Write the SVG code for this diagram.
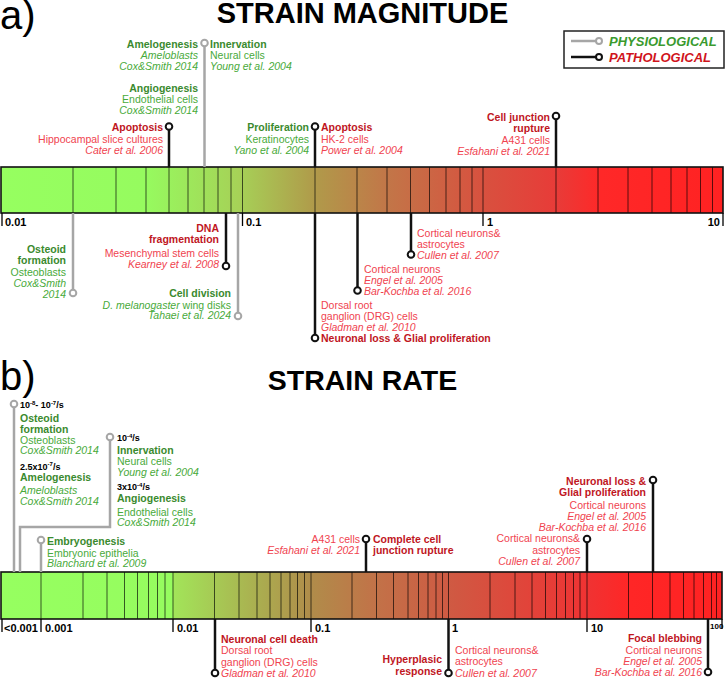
<svg xmlns="http://www.w3.org/2000/svg" width="725" height="678" viewBox="0 0 725 678">
<defs>
<linearGradient id="gA" gradientUnits="userSpaceOnUse" x1="0" y1="0" x2="724" y2="0">
<stop offset="0" stop-color="#96ff60"/>
<stop offset="0.2" stop-color="#96fb5f"/>
<stop offset="0.33" stop-color="#a6d157"/>
<stop offset="0.435" stop-color="#b09a4a"/>
<stop offset="0.535" stop-color="#c27648"/>
<stop offset="0.667" stop-color="#d8513f"/>
<stop offset="0.77" stop-color="#e83b38"/>
<stop offset="0.83" stop-color="#ff2828"/>
<stop offset="1" stop-color="#ff2222"/>
</linearGradient>
<linearGradient id="gB" gradientUnits="userSpaceOnUse" x1="0" y1="0" x2="724" y2="0">
<stop offset="0" stop-color="#96ff60"/>
<stop offset="0.238" stop-color="#96fc5f"/>
<stop offset="0.24" stop-color="#a2e459"/>
<stop offset="0.43" stop-color="#b08c4a"/>
<stop offset="0.52" stop-color="#c27248"/>
<stop offset="0.62" stop-color="#cf5a43"/>
<stop offset="0.81" stop-color="#ef3333"/>
<stop offset="0.87" stop-color="#ff2626"/>
<stop offset="1" stop-color="#ff2222"/>
</linearGradient>
<style>
text{font-family:"Liberation Sans",Arial,sans-serif;font-size:10.5px}
.e{text-anchor:end}
.gb{fill:#3a8a2e;font-weight:bold}
.g{fill:#48aa3a}
.gi{fill:#48aa3a;font-style:italic}
.rb{fill:#c0161e;font-weight:bold}
.r{fill:#f0434f}
.ri{fill:#f0434f;font-style:italic}
.k{fill:#000;font-weight:bold;font-size:9px}
.sup{font-size:6px}
.tk{fill:#000;font-weight:bold;font-size:11px}
.ttl{fill:#000;font-weight:bold;font-size:29px;text-anchor:middle}
.big{fill:#000;font-size:40px}
.pl{stroke:#a6a6a6;stroke-width:2.5;fill:none}
.bl{stroke:#111;stroke-width:2.5;fill:none}
.pc{fill:#fff;stroke:#a6a6a6;stroke-width:2}
.bc{fill:#fff;stroke:#111;stroke-width:2}
.seg{stroke:#000;stroke-opacity:0.65;stroke-width:1}
.tic{stroke:#000;stroke-width:1.3}
.bar{stroke:#111;stroke-width:1.6}
</style>
</defs>

<!-- Panel a -->
<text class="big" x="0" y="29">a)</text>
<text class="ttl" x="362.5" y="23">STRAIN MAGNITUDE</text>

<g id="legend">
<rect x="564" y="31" width="160" height="37" fill="#fff" stroke="#222" stroke-width="1.5"/>
<line class="pl" x1="571" y1="41" x2="596" y2="41"/>
<circle class="pc" cx="599" cy="41" r="3"/>
<line class="bl" x1="571" y1="57" x2="596" y2="57"/>
<circle class="bc" cx="599" cy="57" r="3"/>
<text x="609" y="46" style="font-size:13px;font-weight:bold;font-style:italic;fill:#3a9a2e">PHYSIOLOGICAL</text>
<text x="609" y="62" style="font-size:13px;font-weight:bold;font-style:italic;fill:#d0141c">PATHOLOGICAL</text>
</g>

<g id="barA">
<rect x="1" y="167" width="722" height="46" fill="url(#gA)"/>
<g class="seg">
<line x1="73" y1="167" x2="73" y2="213"/><line x1="116" y1="167" x2="116" y2="213"/><line x1="146" y1="167" x2="146" y2="213"/><line x1="169" y1="167" x2="169" y2="213"/><line x1="188" y1="167" x2="188" y2="213"/><line x1="204" y1="167" x2="204" y2="213"/><line x1="218" y1="167" x2="218" y2="213"/><line x1="231" y1="167" x2="231" y2="213"/><line x1="242.5" y1="167" x2="242.5" y2="213"/>
<line x1="315" y1="167" x2="315" y2="213"/><line x1="357" y1="167" x2="357" y2="213"/><line x1="387" y1="167" x2="387" y2="213"/><line x1="410.5" y1="167" x2="410.5" y2="213"/><line x1="429.5" y1="167" x2="429.5" y2="213"/><line x1="446" y1="167" x2="446" y2="213"/><line x1="460" y1="167" x2="460" y2="213"/><line x1="472" y1="167" x2="472" y2="213"/><line x1="483" y1="167" x2="483" y2="213"/>
<line x1="556" y1="167" x2="556" y2="213"/><line x1="598" y1="167" x2="598" y2="213"/><line x1="628" y1="167" x2="628" y2="213"/><line x1="652" y1="167" x2="652" y2="213"/><line x1="671" y1="167" x2="671" y2="213"/><line x1="687" y1="167" x2="687" y2="213"/><line x1="700.5" y1="167" x2="700.5" y2="213"/><line x1="712.5" y1="167" x2="712.5" y2="213"/>
</g>
<rect class="bar" x="1" y="167" width="722" height="46" fill="none"/>
<g class="tic">
<line x1="2" y1="213" x2="2" y2="226"/><line x1="242.5" y1="213" x2="242.5" y2="226"/><line x1="483" y1="213" x2="483" y2="226"/><line x1="723" y1="213" x2="723" y2="226"/>
</g>
<text class="tk" x="5" y="226">0.01</text>
<text class="tk" x="246" y="226">0.1</text>
<text class="tk" x="487" y="226">1</text>
<text class="tk e" x="720" y="226">10</text>
</g>

<!-- Panel b -->
<text class="big" x="0" y="390">b)</text>
<text class="ttl" x="362.5" y="389.5" style="font-size:28.5px">STRAIN RATE</text>

<g id="barB">
<rect x="1" y="572" width="721" height="47" fill="url(#gB)"/>
<g class="seg">
<line x1="41" y1="572" x2="41" y2="619"/><line x1="83" y1="572" x2="83" y2="619"/><line x1="107" y1="572" x2="107" y2="619"/><line x1="124.5" y1="572" x2="124.5" y2="619"/><line x1="137.5" y1="572" x2="137.5" y2="619"/><line x1="148.5" y1="572" x2="148.5" y2="619"/><line x1="157.5" y1="572" x2="157.5" y2="619"/><line x1="165" y1="572" x2="165" y2="619"/><line x1="173" y1="572" x2="173" y2="619"/>
<line x1="214.5" y1="572" x2="214.5" y2="619"/><line x1="239" y1="572" x2="239" y2="619"/><line x1="257" y1="572" x2="257" y2="619"/><line x1="270" y1="572" x2="270" y2="619"/><line x1="281" y1="572" x2="281" y2="619"/><line x1="290" y1="572" x2="290" y2="619"/><line x1="297.5" y1="572" x2="297.5" y2="619"/><line x1="304.5" y1="572" x2="304.5" y2="619"/><line x1="311" y1="572" x2="311" y2="619"/>
<line x1="352" y1="572" x2="352" y2="619"/><line x1="376.5" y1="572" x2="376.5" y2="619"/><line x1="393.5" y1="572" x2="393.5" y2="619"/><line x1="408" y1="572" x2="408" y2="619"/><line x1="418.5" y1="572" x2="418.5" y2="619"/><line x1="428" y1="572" x2="428" y2="619"/><line x1="436" y1="572" x2="436" y2="619"/><line x1="442.5" y1="572" x2="442.5" y2="619"/><line x1="448.5" y1="572" x2="448.5" y2="619"/>
<line x1="490" y1="572" x2="490" y2="619"/><line x1="515" y1="572" x2="515" y2="619"/><line x1="532" y1="572" x2="532" y2="619"/><line x1="545.5" y1="572" x2="545.5" y2="619"/><line x1="556.5" y1="572" x2="556.5" y2="619"/><line x1="565.5" y1="572" x2="565.5" y2="619"/><line x1="573.5" y1="572" x2="573.5" y2="619"/><line x1="580" y1="572" x2="580" y2="619"/><line x1="587" y1="572" x2="587" y2="619"/>
<line x1="628.5" y1="572" x2="628.5" y2="619"/><line x1="652.5" y1="572" x2="652.5" y2="619"/><line x1="670" y1="572" x2="670" y2="619"/><line x1="683.5" y1="572" x2="683.5" y2="619"/><line x1="694" y1="572" x2="694" y2="619"/><line x1="703.5" y1="572" x2="703.5" y2="619"/><line x1="711.5" y1="572" x2="711.5" y2="619"/><line x1="716.5" y1="572" x2="716.5" y2="619"/>
</g>
<rect class="bar" x="1" y="572" width="721" height="47" fill="none"/>
<g class="tic">
<line x1="2" y1="619" x2="2" y2="632"/><line x1="41" y1="619" x2="41" y2="632"/><line x1="173" y1="619" x2="173" y2="632"/><line x1="311" y1="619" x2="311" y2="632"/><line x1="587" y1="619" x2="587" y2="632"/><line x1="722" y1="619" x2="722" y2="629"/>
</g>
<text class="tk" x="4" y="632">&lt;0.001</text>
<text class="tk" x="45" y="632">0.001</text>
<text class="tk" x="177" y="632">0.01</text>
<text class="tk" x="315" y="632">0.1</text>
<text class="tk" x="452" y="632">1</text>
<text class="tk" x="591" y="632">10</text>
<text class="tk" x="710" y="629" style="font-size:8px">100</text>
</g>

<g id="connectors">
<line class="pl" x1="204.5" y1="43" x2="204.5" y2="167"/>
<line class="bl" x1="169" y1="126" x2="169" y2="167"/>
<line class="bl" x1="315" y1="126" x2="315" y2="167"/>
<line class="bl" x1="556" y1="116" x2="556" y2="167"/>
<line class="pl" x1="73" y1="213" x2="73" y2="293"/>
<line class="bl" x1="226" y1="213" x2="226" y2="266"/>
<line class="pl" x1="238" y1="213" x2="238" y2="316"/>
<line class="bl" x1="315" y1="213" x2="315" y2="338"/>
<line class="bl" x1="357.5" y1="213" x2="357.5" y2="290"/>
<line class="bl" x1="411" y1="213" x2="411" y2="254"/>
<line class="pl" x1="14" y1="404" x2="14" y2="572"/>
<polyline class="pl" points="110,437 110,527 20,527 20,572"/>
<line class="pl" x1="41" y1="540" x2="41" y2="572"/>
<line class="bl" x1="366" y1="539" x2="366" y2="572"/>
<line class="bl" x1="587" y1="539" x2="587" y2="572"/>
<line class="bl" x1="653" y1="480" x2="653" y2="572"/>
<line class="bl" x1="215" y1="619" x2="215" y2="673"/>
<line class="bl" x1="448.5" y1="619" x2="448.5" y2="673"/>
<line class="bl" x1="708" y1="619" x2="708" y2="672"/>
</g>

<g id="a-amelo-innerv">
<circle class="pc" cx="204.5" cy="43" r="3.3"/>
<text class="gb e" x="198" y="47.5">Amelogenesis</text>
<text class="gi e" x="198" y="59">Ameloblasts</text>
<text class="gi e" x="198" y="70">Cox&amp;Smith 2014</text>
<text class="gb" x="210" y="47.5">Innervation</text>
<text class="g" x="210" y="59">Neural cells</text>
<text class="gi" x="210" y="70">Young et al. 2004</text>
<text class="gb e" x="198" y="91.5">Angiogenesis</text>
<text class="g e" x="198" y="103">Endothelial cells</text>
<text class="gi e" x="198" y="113.5">Cox&amp;Smith 2014</text>
</g>
<g id="a-apoptosis-hippo">
<circle class="bc" cx="169" cy="126.5" r="3.3"/>
<text class="rb e" x="163" y="130.5">Apoptosis</text>
<text class="r e" x="163" y="143">Hippocampal slice cultures</text>
<text class="ri e" x="163" y="154">Cater et al. 2006</text>
</g>
<g id="a-prolif-apoptosis">
<circle class="bc" cx="315" cy="126.5" r="3.3"/>
<text class="gb e" x="309" y="130.5">Proliferation</text>
<text class="g e" x="309" y="143">Keratinocytes</text>
<text class="gi e" x="309" y="154">Yano et al. 2004</text>
<text class="rb" x="321" y="130.5">Apoptosis</text>
<text class="r" x="321" y="143">HK-2 cells</text>
<text class="ri" x="321" y="154">Power et al. 2004</text>
</g>
<g id="a-junction">
<circle class="bc" cx="556" cy="116" r="3.3"/>
<text class="rb e" x="550" y="120.5">Cell junction</text>
<text class="rb e" x="550" y="131.5">rupture</text>
<text class="r e" x="550" y="143.5">A431 cells</text>
<text class="ri e" x="550" y="154.5">Esfahani et al. 2021</text>
</g>
<g id="a-osteoid">
<circle class="pc" cx="73" cy="293" r="3.3"/>
<text class="gb e" x="66" y="253">Osteoid</text>
<text class="gb e" x="66" y="264">formation</text>
<text class="g e" x="66" y="275.5">Osteoblasts</text>
<text class="gi e" x="66" y="286.5">Cox&amp;Smith</text>
<text class="gi e" x="66" y="297.5">2014</text>
</g>
<g id="a-dna">
<circle class="bc" cx="226" cy="266" r="3.3"/>
<text class="rb e" x="219" y="232">DNA</text>
<text class="rb e" x="219" y="243">fragmentation</text>
<text class="r e" x="219" y="256.5">Mesenchymal stem cells</text>
<text class="ri e" x="219" y="267.5">Kearney et al. 2008</text>
</g>
<g id="a-celldiv">
<circle class="pc" cx="238" cy="316" r="3.3"/>
<text class="gb e" x="231" y="297">Cell division</text>
<text class="g e" x="231" y="308.5"><tspan font-style="italic">D. melanogaster</tspan> wing disks</text>
<text class="gi e" x="231" y="319">Tahaei et al. 2024</text>
</g>
<g id="a-neuronal-loss">
<circle class="bc" cx="315" cy="338" r="3.3"/>
<text class="r" x="321" y="309">Dorsal root</text>
<text class="r" x="321" y="320">ganglion (DRG) cells</text>
<text class="ri" x="321" y="331">Gladman et al. 2010</text>
<text class="rb" x="321" y="342">Neuronal loss &amp; Glial proliferation</text>
</g>
<g id="a-cortical-engel">
<circle class="bc" cx="357.5" cy="290.5" r="3.3"/>
<text class="r" x="364" y="272.5">Cortical neurons</text>
<text class="ri" x="364" y="283.5">Engel et al. 2005</text>
<text class="ri" x="364" y="294.5">Bar-Kochba et al. 2016</text>
</g>
<g id="a-cortical-cullen">
<circle class="bc" cx="411" cy="254.5" r="3.3"/>
<text class="r" x="417" y="236.5">Cortical neurons&amp;</text>
<text class="r" x="417" y="247.5">astrocytes</text>
<text class="ri" x="417" y="258.5">Cullen et al. 2007</text>
</g>

<g id="b-osteoid-amelo">
<circle class="pc" cx="14" cy="404" r="3.3"/>
<text class="k" x="20" y="408">10<tspan class="sup" dy="-3.5">-8</tspan><tspan dy="3.5">- 10</tspan><tspan class="sup" dy="-3.5">-7</tspan><tspan dy="3.5">/s</tspan></text>
<text class="gb" x="20" y="421.5">Osteoid</text>
<text class="gb" x="20" y="432.5">formation</text>
<text class="g" x="20" y="443.5">Osteoblasts</text>
<text class="gi" x="20" y="454">Cox&amp;Smith 2014</text>
<text class="k" x="20" y="469.5">2.5x10<tspan class="sup" dy="-3.5">-7</tspan><tspan dy="3.5">/s</tspan></text>
<text class="gb" x="20" y="480.5">Amelogenesis</text>
<text class="gi" x="20" y="494">Ameloblasts</text>
<text class="gi" x="20" y="504.5">Cox&amp;Smith 2014</text>
</g>
<g id="b-innerv-angio">
<circle class="pc" cx="110" cy="437" r="3.3"/>
<text class="k" x="117" y="441">10<tspan class="sup" dy="-3.5">-4</tspan><tspan dy="3.5">/s</tspan></text>
<text class="gb" x="117" y="454">Innervation</text>
<text class="g" x="117" y="465">Neural cells</text>
<text class="gi" x="117" y="476">Young et al. 2004</text>
<text class="k" x="117" y="490">3x10<tspan class="sup" dy="-3.5">-4</tspan><tspan dy="3.5">/s</tspan></text>
<text class="gb" x="117" y="502">Angiogenesis</text>
<text class="g" x="117" y="515.5">Endothelial cells</text>
<text class="gi" x="117" y="526">Cox&amp;Smith 2014</text>
</g>
<g id="b-embryo">
<circle class="pc" cx="41" cy="540" r="3.3"/>
<text class="gb" x="47" y="545">Embryogenesis</text>
<text class="g" x="47" y="556.5">Embryonic epithelia</text>
<text class="gi" x="47" y="567">Blanchard et al. 2009</text>
</g>
<g id="b-junction">
<circle class="bc" cx="366" cy="539" r="3.3"/>
<text class="r e" x="360" y="543">A431 cells</text>
<text class="ri e" x="360" y="554">Esfahani et al. 2021</text>
<text class="rb" x="373" y="542.5">Complete cell</text>
<text class="rb" x="373" y="553.5">junction rupture</text>
</g>
<g id="b-cortical-cullen">
<circle class="bc" cx="587" cy="539" r="3.3"/>
<text class="r e" x="580" y="542">Cortical neurons&amp;</text>
<text class="r e" x="580" y="553.5">astrocytes</text>
<text class="ri e" x="580" y="565">Cullen et al. 2007</text>
</g>
<g id="b-neuronal-loss">
<circle class="bc" cx="653" cy="480" r="3.3"/>
<text class="rb e" x="646" y="484.5">Neuronal loss &amp;</text>
<text class="rb e" x="646" y="495.5">Glial proliferation</text>
<text class="r e" x="646" y="508.5">Cortical neurons</text>
<text class="ri e" x="646" y="519.5">Engel et al. 2005</text>
<text class="ri e" x="646" y="530.5">Bar-Kochba et al. 2016</text>
</g>
<g id="b-cell-death">
<circle class="bc" cx="215" cy="673" r="3.3"/>
<text class="rb" x="221" y="643">Neuronal cell death</text>
<text class="r" x="221" y="654">Dorsal root</text>
<text class="r" x="221" y="665.5">ganglion (DRG) cells</text>
<text class="ri" x="221" y="676.5">Gladman et al. 2010</text>
</g>
<g id="b-hyperplasic">
<circle class="bc" cx="448.5" cy="673" r="3.3"/>
<text class="rb e" x="442" y="663">Hyperplasic</text>
<text class="rb e" x="442" y="674.5">response</text>
<text class="r" x="455" y="653.5">Cortical neurons&amp;</text>
<text class="r" x="455" y="665">astrocytes</text>
<text class="ri" x="455" y="676.5">Cullen et al. 2007</text>
</g>
<g id="b-blebbing">
<circle class="bc" cx="708" cy="672" r="3.3"/>
<text class="rb e" x="702" y="641.5">Focal blebbing</text>
<text class="r e" x="702" y="654">Cortical neurons</text>
<text class="ri e" x="702" y="665">Engel et al. 2005</text>
<text class="ri e" x="702" y="676">Bar-Kochba et al. 2016</text>
</g>
</svg>
